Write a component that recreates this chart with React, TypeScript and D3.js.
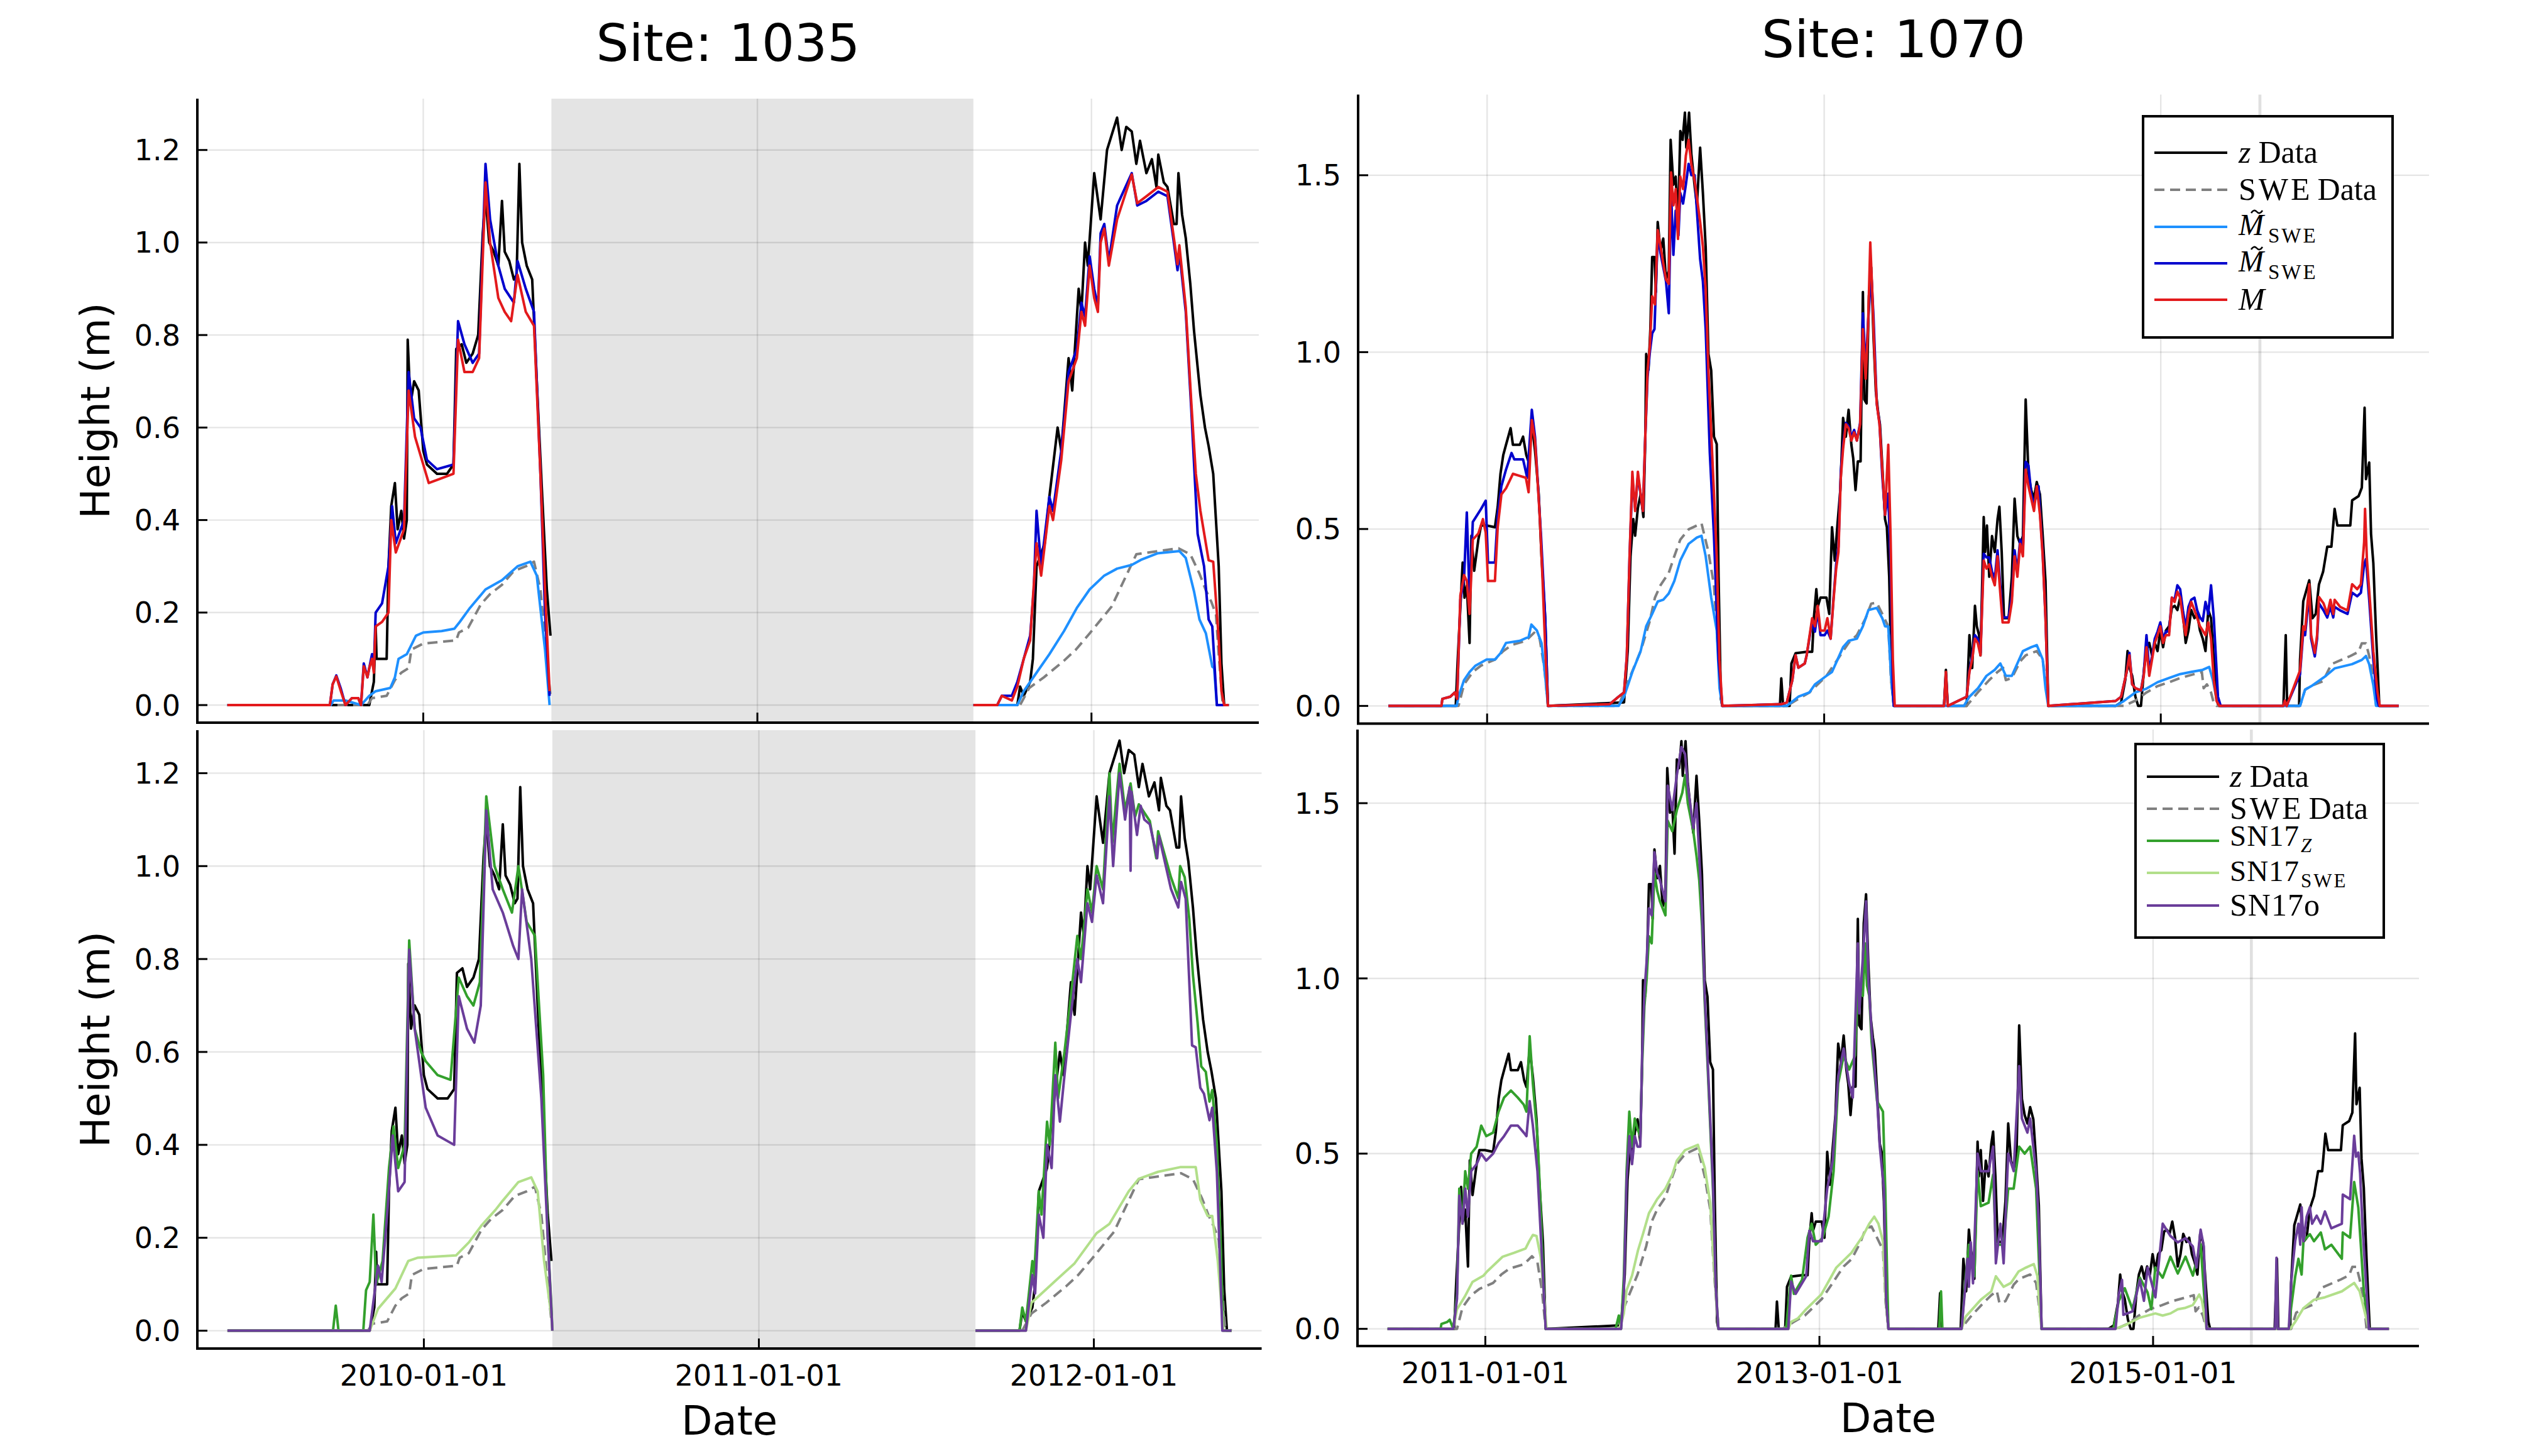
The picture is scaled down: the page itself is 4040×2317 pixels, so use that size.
import React from "react";
import * as d3 from "d3";

type Pt = [string, number | null];

// ---------------- Site 1035 ----------------
const site1035Range = ["2009-06-01", "2012-05-30"];
const site1035Gap = ["2010-05-21", "2011-08-25"];

const zData1035: Pt[] = [
  ["2009-06-01", 0], ["2009-11-03", 0], ["2009-11-06", 0.03], ["2009-11-08", 0.05], ["2009-11-10", 0.17], ["2009-11-11", 0.1],
  ["2009-11-22", 0.1], ["2009-11-24", 0.3], ["2009-11-27", 0.43], ["2009-12-01", 0.48], ["2009-12-04", 0.38], ["2009-12-08", 0.42],
  ["2009-12-11", 0.36], ["2009-12-14", 0.4], ["2009-12-15", 0.79], ["2009-12-18", 0.65], ["2009-12-22", 0.7], ["2009-12-27", 0.68],
  ["2010-01-01", 0.55], ["2010-01-05", 0.52], ["2010-01-16", 0.5], ["2010-01-27", 0.5], ["2010-02-03", 0.52], ["2010-02-06", 0.77],
  ["2010-02-12", 0.78], ["2010-02-17", 0.74], ["2010-02-24", 0.76], ["2010-03-02", 0.8], ["2010-03-07", 1.02], ["2010-03-10", 1.1],
  ["2010-03-14", 1.0], ["2010-03-19", 0.98], ["2010-03-24", 0.95], ["2010-03-28", 1.09], ["2010-03-31", 0.98], ["2010-04-05", 0.96],
  ["2010-04-10", 0.92], ["2010-04-13", 0.93], ["2010-04-16", 1.17], ["2010-04-19", 1.0], ["2010-04-24", 0.95], ["2010-04-30", 0.92],
  ["2010-05-05", 0.7], ["2010-05-11", 0.45], ["2010-05-16", 0.25], ["2010-05-20", 0.15], ["2010-06-01", null],
  ["2011-08-25", 0], ["2011-10-12", 0], ["2011-10-15", 0.04], ["2011-10-19", 0.02], ["2011-10-26", 0.05], ["2011-10-29", 0.1],
  ["2011-11-02", 0.3], ["2011-11-11", 0.35], ["2011-11-16", 0.45], ["2011-11-25", 0.6], ["2011-11-29", 0.55], ["2011-12-07", 0.75],
  ["2011-12-11", 0.68], ["2011-12-18", 0.9], ["2011-12-21", 0.85], ["2011-12-25", 1.0], ["2011-12-28", 0.95], ["2012-01-04", 1.15],
  ["2012-01-11", 1.05], ["2012-01-18", 1.2], ["2012-01-29", 1.27], ["2012-02-03", 1.2], ["2012-02-08", 1.25], ["2012-02-14", 1.24],
  ["2012-02-19", 1.17], ["2012-02-23", 1.22], ["2012-03-01", 1.15], ["2012-03-07", 1.18], ["2012-03-12", 1.12], ["2012-03-14", 1.19],
  ["2012-03-20", 1.13], ["2012-03-24", 1.12], ["2012-03-31", 1.04], ["2012-04-03", 1.04], ["2012-04-05", 1.15], ["2012-04-09", 1.06],
  ["2012-04-13", 1.01], ["2012-04-18", 0.91], ["2012-04-22", 0.81], ["2012-04-29", 0.67], ["2012-05-04", 0.6], ["2012-05-08", 0.56],
  ["2012-05-13", 0.5], ["2012-05-16", 0.4], ["2012-05-19", 0.3], ["2012-05-22", 0.09], ["2012-05-25", 0], ["2012-05-30", 0],
];

const swe1035: Pt[] = [
  ["2009-06-01", 0], ["2009-11-01", 0], ["2009-11-06", 0.015], ["2009-11-22", 0.02], ["2009-12-01", 0.054], ["2009-12-08", 0.07],
  ["2009-12-16", 0.08], ["2009-12-19", 0.12], ["2010-01-01", 0.133], ["2010-02-06", 0.14], ["2010-02-09", 0.157], ["2010-02-19", 0.167],
  ["2010-03-05", 0.218], ["2010-03-15", 0.24], ["2010-03-28", 0.26], ["2010-04-10", 0.29], ["2010-04-23", 0.3], ["2010-05-02", 0.31],
  ["2010-05-09", 0.25], ["2010-05-16", 0.1], ["2010-05-20", 0.02], ["2010-06-01", null],
  ["2011-08-25", 0], ["2011-10-15", 0], ["2011-10-25", 0.037], ["2011-11-10", 0.06], ["2011-12-02", 0.096], ["2011-12-15", 0.12],
  ["2011-12-30", 0.155], ["2012-01-23", 0.213], ["2012-02-08", 0.28], ["2012-02-19", 0.326], ["2012-04-05", 0.339], ["2012-04-18", 0.326],
  ["2012-04-28", 0.284], ["2012-05-05", 0.248], ["2012-05-11", 0.223], ["2012-05-16", 0.196], ["2012-05-19", 0.11], ["2012-05-23", 0.01],
  ["2012-05-30", 0],
];

const mTildeLight1035: Pt[] = [
  ["2009-06-01", 0], ["2009-09-22", 0], ["2009-09-25", 0.01], ["2009-10-08", 0.01], ["2009-10-25", 0], ["2009-11-03", 0.02],
  ["2009-11-10", 0.03], ["2009-11-26", 0.037], ["2009-12-01", 0.06], ["2009-12-05", 0.1], ["2009-12-14", 0.11], ["2009-12-19", 0.13],
  ["2009-12-24", 0.15], ["2010-01-01", 0.157], ["2010-01-21", 0.16], ["2010-02-04", 0.165], ["2010-02-10", 0.18], ["2010-02-21", 0.21],
  ["2010-03-10", 0.25], ["2010-03-28", 0.27], ["2010-04-14", 0.3], ["2010-04-28", 0.31], ["2010-05-05", 0.28], ["2010-05-14", 0.12],
  ["2010-05-19", 0], ["2010-06-01", null],
  ["2011-08-25", 0], ["2011-10-12", 0], ["2011-10-19", 0.03], ["2011-11-02", 0.07], ["2011-11-16", 0.11], ["2011-12-02", 0.16],
  ["2011-12-16", 0.21], ["2011-12-30", 0.25], ["2012-01-15", 0.28], ["2012-01-29", 0.295], ["2012-02-14", 0.303], ["2012-02-24", 0.314],
  ["2012-03-13", 0.328], ["2012-04-06", 0.333], ["2012-04-13", 0.318], ["2012-04-22", 0.246], ["2012-04-28", 0.185], ["2012-05-05", 0.155],
  ["2012-05-12", 0.083], ["2012-05-14", 0.08], ["2012-05-17", 0], ["2012-05-30", 0],
];

const mTildeDark1035: Pt[] = [
  ["2009-06-01", 0], ["2009-09-21", 0], ["2009-09-24", 0.045], ["2009-09-28", 0.064], ["2009-10-03", 0.035], ["2009-10-08", 0],
  ["2009-10-15", 0.015], ["2009-10-22", 0.015], ["2009-10-25", 0], ["2009-10-28", 0.09], ["2009-11-01", 0.06], ["2009-11-03", 0.08],
  ["2009-11-06", 0.11], ["2009-11-08", 0.08], ["2009-11-10", 0.2], ["2009-11-17", 0.22], ["2009-11-24", 0.3], ["2009-11-28", 0.43],
  ["2009-12-02", 0.35], ["2009-12-11", 0.4], ["2009-12-16", 0.72], ["2009-12-22", 0.62], ["2009-12-29", 0.6], ["2010-01-05", 0.53],
  ["2010-01-16", 0.51], ["2010-02-03", 0.52], ["2010-02-08", 0.83], ["2010-02-15", 0.78], ["2010-02-24", 0.74], ["2010-03-03", 0.76],
  ["2010-03-10", 1.17], ["2010-03-15", 1.05], ["2010-03-24", 0.95], ["2010-03-31", 0.9], ["2010-04-10", 0.87], ["2010-04-14", 0.96],
  ["2010-04-23", 0.9], ["2010-05-02", 0.85], ["2010-05-09", 0.5], ["2010-05-14", 0.2], ["2010-05-19", 0.02], ["2010-06-01", null],
  ["2011-08-25", 0], ["2011-09-20", 0], ["2011-09-25", 0.02], ["2011-10-06", 0.02], ["2011-10-12", 0.05], ["2011-10-19", 0.1],
  ["2011-10-26", 0.15], ["2011-10-30", 0.25], ["2011-11-02", 0.42], ["2011-11-07", 0.3], ["2011-11-16", 0.45], ["2011-11-20", 0.42],
  ["2011-11-29", 0.55], ["2011-12-07", 0.72], ["2011-12-16", 0.77], ["2011-12-21", 0.87], ["2011-12-25", 0.84], ["2011-12-30", 0.97],
  ["2012-01-04", 0.9], ["2012-01-08", 0.86], ["2012-01-11", 1.02], ["2012-01-15", 1.04], ["2012-01-20", 0.96], ["2012-01-29", 1.08],
  ["2012-02-14", 1.15], ["2012-02-20", 1.08], ["2012-03-01", 1.09], ["2012-03-14", 1.11], ["2012-03-24", 1.1], ["2012-03-31", 1.0],
  ["2012-04-04", 0.94], ["2012-04-06", 0.98], ["2012-04-13", 0.85], ["2012-04-19", 0.64], ["2012-04-26", 0.37], ["2012-05-03", 0.3],
  ["2012-05-08", 0.185], ["2012-05-12", 0.17], ["2012-05-17", 0], ["2012-05-30", 0],
];

const m1035: Pt[] = [
  ["2009-06-01", 0], ["2009-09-21", 0], ["2009-09-24", 0.045], ["2009-09-28", 0.062], ["2009-10-03", 0.03], ["2009-10-08", 0],
  ["2009-10-15", 0.015], ["2009-10-22", 0.015], ["2009-10-25", 0], ["2009-10-28", 0.084], ["2009-11-01", 0.06], ["2009-11-03", 0.08],
  ["2009-11-06", 0.1], ["2009-11-08", 0.07], ["2009-11-10", 0.17], ["2009-11-17", 0.18], ["2009-11-24", 0.2], ["2009-11-27", 0.4],
  ["2009-12-02", 0.33], ["2009-12-11", 0.38], ["2009-12-16", 0.68], ["2009-12-23", 0.58], ["2010-01-01", 0.52], ["2010-01-07", 0.48],
  ["2010-02-03", 0.5], ["2010-02-08", 0.79], ["2010-02-15", 0.72], ["2010-02-24", 0.72], ["2010-03-03", 0.75], ["2010-03-10", 1.13],
  ["2010-03-15", 1.0], ["2010-03-24", 0.88], ["2010-03-31", 0.85], ["2010-04-07", 0.83], ["2010-04-14", 0.93], ["2010-04-23", 0.85],
  ["2010-05-02", 0.82], ["2010-05-09", 0.5], ["2010-05-14", 0.25], ["2010-05-19", 0.03], ["2010-06-01", null],
  ["2011-08-25", 0], ["2011-09-20", 0], ["2011-09-25", 0.02], ["2011-10-06", 0.01], ["2011-10-12", 0.04], ["2011-10-19", 0.1],
  ["2011-10-26", 0.14], ["2011-11-02", 0.35], ["2011-11-07", 0.28], ["2011-11-16", 0.43], ["2011-11-20", 0.4], ["2011-11-29", 0.53],
  ["2011-12-07", 0.7], ["2011-12-16", 0.75], ["2011-12-21", 0.85], ["2011-12-25", 0.82], ["2011-12-30", 0.95], ["2012-01-04", 0.88],
  ["2012-01-08", 0.85], ["2012-01-11", 1.0], ["2012-01-15", 1.03], ["2012-01-20", 0.95], ["2012-01-29", 1.05], ["2012-02-14", 1.147],
  ["2012-02-20", 1.085], ["2012-03-01", 1.1], ["2012-03-14", 1.12], ["2012-03-24", 1.11], ["2012-03-31", 1.01], ["2012-04-04", 0.953],
  ["2012-04-06", 0.994], ["2012-04-13", 0.86], ["2012-04-19", 0.656], ["2012-04-24", 0.5], ["2012-04-29", 0.42], ["2012-05-08", 0.313],
  ["2012-05-13", 0.31], ["2012-05-19", 0.144], ["2012-05-22", 0.03], ["2012-05-25", 0], ["2012-05-30", 0],
];

const sn17z1035: Pt[] = [
  ["2009-06-01", 0], ["2009-09-24", 0], ["2009-09-27", 0.054], ["2009-09-30", 0], ["2009-10-27", 0], ["2009-10-30", 0.087],
  ["2009-11-03", 0.105], ["2009-11-07", 0.25], ["2009-11-10", 0.1], ["2009-11-17", 0.15], ["2009-11-24", 0.35], ["2009-11-29", 0.44],
  ["2009-12-04", 0.35], ["2009-12-11", 0.4], ["2009-12-16", 0.84], ["2009-12-22", 0.65], ["2009-12-29", 0.6], ["2010-01-03", 0.58],
  ["2010-01-16", 0.55], ["2010-01-30", 0.54], ["2010-02-08", 0.76], ["2010-02-17", 0.72], ["2010-02-24", 0.7], ["2010-03-03", 0.75],
  ["2010-03-10", 1.15], ["2010-03-19", 1.0], ["2010-03-28", 0.95], ["2010-04-07", 0.9], ["2010-04-14", 1.0], ["2010-04-23", 0.88],
  ["2010-05-02", 0.85], ["2010-05-11", 0.55], ["2010-05-16", 0.2], ["2010-05-20", 0.05], ["2010-05-21", 0], ["2010-06-01", null],
  ["2011-08-25", 0], ["2011-10-12", 0], ["2011-10-15", 0.05], ["2011-10-19", 0.02], ["2011-10-26", 0.15], ["2011-10-28", 0.12],
  ["2011-11-02", 0.3], ["2011-11-05", 0.25], ["2011-11-11", 0.45], ["2011-11-14", 0.4], ["2011-11-20", 0.62], ["2011-11-23", 0.5],
  ["2011-11-30", 0.6], ["2011-12-07", 0.72], ["2011-12-14", 0.85], ["2011-12-18", 0.8], ["2011-12-25", 0.95], ["2011-12-30", 0.9],
  ["2012-01-04", 1.0], ["2012-01-11", 0.95], ["2012-01-18", 1.2], ["2012-01-21", 1.05], ["2012-01-29", 1.22], ["2012-02-04", 1.12],
  ["2012-02-10", 1.178], ["2012-02-15", 1.107], ["2012-02-19", 1.133], ["2012-03-02", 1.097], ["2012-03-09", 1.017], ["2012-03-11", 1.075],
  ["2012-03-25", 0.976], ["2012-04-02", 0.931], ["2012-04-04", 1.0], ["2012-04-09", 0.976], ["2012-04-14", 0.886], ["2012-04-18", 0.765],
  ["2012-04-23", 0.664], ["2012-04-27", 0.569], ["2012-05-02", 0.557], ["2012-05-06", 0.493], ["2012-05-09", 0.518], ["2012-05-14", 0.402],
  ["2012-05-18", 0.2], ["2012-05-21", 0], ["2012-05-30", 0],
];

const sn17swe1035: Pt[] = [
  ["2009-06-01", 0], ["2009-11-03", 0], ["2009-11-12", 0.047], ["2009-12-01", 0.091], ["2009-12-15", 0.15], ["2009-12-25", 0.157],
  ["2010-02-05", 0.162], ["2010-02-19", 0.19], ["2010-03-05", 0.227], ["2010-03-20", 0.26], ["2010-03-28", 0.28], ["2010-04-14", 0.32],
  ["2010-04-28", 0.33], ["2010-05-05", 0.3], ["2010-05-12", 0.15], ["2010-05-20", 0.03], ["2010-05-21", 0], ["2010-06-01", null],
  ["2011-08-25", 0], ["2011-10-19", 0], ["2011-10-25", 0.06], ["2011-11-16", 0.1], ["2011-12-11", 0.145], ["2012-01-04", 0.21],
  ["2012-01-18", 0.23], ["2012-02-08", 0.3], ["2012-02-19", 0.327], ["2012-03-11", 0.342], ["2012-04-04", 0.352], ["2012-04-21", 0.352],
  ["2012-04-26", 0.282], ["2012-05-04", 0.247], ["2012-05-09", 0.247], ["2012-05-15", 0.151], ["2012-05-20", 0.03], ["2012-05-21", 0],
  ["2012-05-30", 0],
];

const sn17o1035: Pt[] = [
  ["2009-06-01", 0], ["2009-11-03", 0], ["2009-11-12", 0.14], ["2009-11-16", 0.105], ["2009-11-22", 0.25], ["2009-11-28", 0.42],
  ["2009-12-04", 0.3], ["2009-12-11", 0.32], ["2009-12-16", 0.82], ["2009-12-22", 0.65], ["2009-12-29", 0.55], ["2010-01-03", 0.48],
  ["2010-01-16", 0.42], ["2010-02-03", 0.4], ["2010-02-08", 0.72], ["2010-02-17", 0.65], ["2010-02-25", 0.62], ["2010-03-04", 0.7],
  ["2010-03-10", 1.12], ["2010-03-17", 0.95], ["2010-03-28", 0.9], ["2010-04-08", 0.83], ["2010-04-14", 0.8], ["2010-04-18", 0.95],
  ["2010-04-28", 0.8], ["2010-05-09", 0.5], ["2010-05-16", 0.2], ["2010-05-21", 0], ["2010-06-01", null],
  ["2011-08-25", 0], ["2011-10-19", 0], ["2011-10-26", 0.12], ["2011-10-29", 0.08], ["2011-11-02", 0.25], ["2011-11-07", 0.2],
  ["2011-11-11", 0.4], ["2011-11-16", 0.35], ["2011-11-20", 0.55], ["2011-11-25", 0.45], ["2011-11-30", 0.55], ["2011-12-07", 0.68],
  ["2011-12-14", 0.8], ["2011-12-18", 0.75], ["2011-12-25", 0.92], ["2011-12-30", 0.88], ["2012-01-04", 0.98], ["2012-01-11", 0.92],
  ["2012-01-18", 1.15], ["2012-01-22", 1.0], ["2012-01-29", 1.2], ["2012-02-04", 1.1], ["2012-02-09", 1.17], ["2012-02-10", 0.99],
  ["2012-02-11", 1.16], ["2012-02-17", 1.067], ["2012-02-21", 1.13], ["2012-02-25", 1.1], ["2012-03-02", 1.09], ["2012-03-10", 1.017],
  ["2012-03-12", 1.065], ["2012-03-25", 0.951], ["2012-04-02", 0.911], ["2012-04-05", 0.966], ["2012-04-10", 0.93], ["2012-04-17", 0.614],
  ["2012-04-21", 0.61], ["2012-04-26", 0.523], ["2012-04-30", 0.51], ["2012-05-06", 0.453], ["2012-05-09", 0.48], ["2012-05-14", 0.342],
  ["2012-05-20", 0], ["2012-05-30", 0],
];

// ---------------- Site 1070 ----------------
const site1070Range = ["2010-06-01", "2016-05-31"];
const site1070Marker = "2015-08-04";

const zData1070: Pt[] = [
  ["2010-06-01", 0], ["2010-10-25", 0], ["2010-10-29", 0.125], ["2010-11-09", 0.405], ["2010-11-13", 0.306], ["2010-11-18", 0.34],
  ["2010-11-24", 0.178], ["2010-11-28", 0.481], ["2010-12-04", 0.382], ["2010-12-13", 0.47], ["2010-12-19", 0.51], ["2010-12-31", 0.51],
  ["2011-01-18", 0.505], ["2011-01-24", 0.563], ["2011-01-30", 0.656], ["2011-02-05", 0.709], ["2011-02-11", 0.738], ["2011-02-21", 0.785],
  ["2011-02-26", 0.738], ["2011-03-13", 0.738], ["2011-03-20", 0.761], ["2011-03-27", 0.709], ["2011-04-01", 0.69], ["2011-04-08", 0.8],
  ["2011-04-15", 0.72], ["2011-04-23", 0.598], ["2011-04-29", 0.423], ["2011-05-07", 0.248], ["2011-05-13", 0],
  ["2011-10-25", 0.01], ["2011-11-02", 0.155], ["2011-11-08", 0.423], ["2011-11-14", 0.528], ["2011-11-18", 0.481], ["2011-11-24", 0.56],
  ["2011-11-30", 0.598], ["2011-12-06", 0.534], ["2011-12-10", 0.75], ["2011-12-12", 0.995], ["2011-12-17", 0.95], ["2011-12-21", 1.065],
  ["2011-12-25", 1.269], ["2011-12-30", 1.269], ["2012-01-02", 1.17], ["2012-01-06", 1.368], ["2012-01-12", 1.286], ["2012-01-18", 1.321],
  ["2012-01-24", 1.205], ["2012-01-30", 1.23], ["2012-02-03", 1.6], ["2012-02-09", 1.473], ["2012-02-14", 1.496], ["2012-02-19", 1.356],
  ["2012-02-24", 1.625], ["2012-02-29", 1.6], ["2012-03-05", 1.677], ["2012-03-08", 1.578], ["2012-03-14", 1.677], ["2012-03-19", 1.56],
  ["2012-03-26", 1.47], ["2012-03-31", 1.415], ["2012-04-07", 1.578], ["2012-04-13", 1.45], ["2012-04-19", 1.298], ["2012-04-25", 0.995],
  ["2012-05-01", 0.948], ["2012-05-07", 0.761], ["2012-05-13", 0.74], ["2012-05-17", 0.365], ["2012-05-22", 0.02], ["2012-05-25", 0],
  ["2012-09-27", 0], ["2012-09-30", 0.078], ["2012-10-04", 0], ["2012-10-18", 0], ["2012-10-22", 0.12], ["2012-10-31", 0.149],
  ["2012-11-24", 0.153], ["2012-12-06", 0.153], ["2012-12-10", 0.254], ["2012-12-15", 0.33], ["2012-12-18", 0.28], ["2012-12-24", 0.306],
  ["2013-01-06", 0.306], ["2013-01-12", 0.26], ["2013-01-18", 0.505], ["2013-01-24", 0.411], ["2013-01-30", 0.516], ["2013-02-05", 0.61],
  ["2013-02-11", 0.814], ["2013-02-17", 0.761], ["2013-02-23", 0.837], ["2013-03-01", 0.738], ["2013-03-05", 0.7], ["2013-03-10", 0.61],
  ["2013-03-15", 0.691], ["2013-03-21", 0.691], ["2013-03-26", 1.17], ["2013-03-29", 0.866], ["2013-04-03", 0.855], ["2013-04-08", 1.158],
  ["2013-04-13", 1.24], ["2013-04-18", 1.042], ["2013-04-23", 0.89], ["2013-04-28", 0.831], ["2013-05-02", 0.796], ["2013-05-07", 0.68],
  ["2013-05-13", 0.528], ["2013-05-17", 0.505], ["2013-05-22", 0.365], ["2013-05-27", 0.07], ["2013-06-01", 0],
  ["2013-09-18", 0], ["2013-09-22", 0.102], ["2013-09-26", 0], ["2013-11-06", 0], ["2013-11-12", 0.2], ["2013-11-18", 0.107],
  ["2013-11-24", 0.283], ["2013-11-28", 0.225], ["2013-12-03", 0.2], ["2013-12-06", 0.143], ["2013-12-13", 0.534], ["2013-12-16", 0.435],
  ["2013-12-20", 0.51], ["2013-12-25", 0.365], ["2013-12-31", 0.48], ["2014-01-06", 0.435], ["2014-01-12", 0.528], ["2014-01-16", 0.563],
  ["2014-01-21", 0.435], ["2014-01-26", 0.248], ["2014-02-05", 0.248], ["2014-02-12", 0.365], ["2014-02-18", 0.586], ["2014-02-24", 0.48],
  ["2014-03-02", 0.458], ["2014-03-08", 0.48], ["2014-03-14", 0.866], ["2014-03-20", 0.656], ["2014-03-26", 0.61], ["2014-04-01", 0.586],
  ["2014-04-07", 0.633], ["2014-04-14", 0.598], ["2014-04-20", 0.481], ["2014-04-26", 0.353], ["2014-05-02", 0],
  ["2014-09-25", 0], ["2014-10-07", 0.01], ["2014-10-16", 0.073], ["2014-10-21", 0.155], ["2014-10-25", 0.108], ["2014-10-31", 0.085],
  ["2014-11-07", 0.026], ["2014-11-13", 0], ["2014-11-19", 0], ["2014-11-26", 0.108], ["2014-12-01", 0.155], ["2014-12-07", 0.178],
  ["2014-12-13", 0.143], ["2014-12-19", 0.178], ["2014-12-25", 0.155], ["2014-12-31", 0.213], ["2015-01-06", 0.166], ["2015-01-12", 0.213],
  ["2015-01-19", 0.225], ["2015-01-25", 0.277], ["2015-01-31", 0.283], ["2015-02-06", 0.271], ["2015-02-12", 0.306], ["2015-02-18", 0.26],
  ["2015-02-24", 0.178], ["2015-03-02", 0.213], ["2015-03-08", 0.271], ["2015-03-15", 0.248], ["2015-03-21", 0.26], ["2015-03-27", 0.213],
  ["2015-04-02", 0.19], ["2015-04-08", 0.155], ["2015-04-14", 0.271], ["2015-04-20", 0.248], ["2015-04-26", 0.13], ["2015-05-02", 0.02],
  ["2015-05-06", 0],
  ["2015-09-24", 0], ["2015-09-29", 0.2], ["2015-10-02", 0], ["2015-10-28", 0], ["2015-10-30", 0.13], ["2015-11-06", 0.296],
  ["2015-11-19", 0.355], ["2015-11-26", 0.248], ["2015-12-03", 0.26], ["2015-12-10", 0.343], ["2015-12-19", 0.379], ["2015-12-28", 0.45],
  ["2016-01-06", 0.45], ["2016-01-13", 0.557], ["2016-01-19", 0.51], ["2016-02-02", 0.51], ["2016-02-16", 0.51], ["2016-02-20", 0.581],
  ["2016-03-05", 0.593], ["2016-03-12", 0.617], ["2016-03-18", 0.843], ["2016-03-21", 0.641], ["2016-03-28", 0.688], ["2016-04-01", 0.486],
  ["2016-04-06", 0.403], ["2016-04-12", 0.2], ["2016-04-19", 0], ["2016-05-31", 0],
];

const swe1070: Pt[] = [
  ["2010-06-01", 0], ["2010-10-31", 0], ["2010-11-04", 0.02], ["2010-11-12", 0.061], ["2010-12-01", 0.096], ["2010-12-19", 0.114],
  ["2011-01-18", 0.131], ["2011-02-05", 0.155], ["2011-02-23", 0.172], ["2011-03-26", 0.184], ["2011-04-13", 0.207], ["2011-04-25", 0.19],
  ["2011-05-05", 0.108], ["2011-05-13", 0],
  ["2011-10-13", 0], ["2011-11-06", 0.079], ["2011-11-30", 0.155], ["2011-12-19", 0.236], ["2011-12-31", 0.306], ["2012-01-12", 0.341],
  ["2012-01-30", 0.376], ["2012-02-11", 0.423], ["2012-02-24", 0.47], ["2012-03-13", 0.499], ["2012-04-10", 0.516], ["2012-04-25", 0.435],
  ["2012-05-07", 0.341], ["2012-05-17", 0.131], ["2012-05-25", 0],
  ["2012-10-12", 0], ["2012-11-06", 0.02], ["2012-11-30", 0.038], ["2013-01-06", 0.085], ["2013-01-30", 0.131], ["2013-02-11", 0.155],
  ["2013-02-23", 0.178], ["2013-03-13", 0.2], ["2013-04-01", 0.248], ["2013-04-13", 0.289], ["2013-04-25", 0.292], ["2013-05-07", 0.26],
  ["2013-05-20", 0.225], ["2013-05-26", 0.073], ["2013-06-01", 0],
  ["2013-11-06", 0], ["2013-11-30", 0.038], ["2013-12-25", 0.073], ["2014-01-12", 0.096], ["2014-01-24", 0.108], ["2014-01-30", 0.073],
  ["2014-02-12", 0.079], ["2014-03-02", 0.126], ["2014-03-14", 0.143], ["2014-04-07", 0.155], ["2014-04-20", 0.131], ["2014-04-28", 0.05],
  ["2014-05-03", 0],
  ["2014-10-13", 0], ["2014-11-07", 0.015], ["2014-12-01", 0.038], ["2014-12-25", 0.056], ["2015-01-19", 0.067], ["2015-02-12", 0.079],
  ["2015-03-15", 0.09], ["2015-03-31", 0.096], ["2015-04-04", 0.05], ["2015-04-11", 0.061], ["2015-04-20", 0.038], ["2015-04-26", 0.008],
  ["2015-05-02", 0],
  ["2015-10-30", 0], ["2015-11-10", 0.046], ["2015-11-26", 0.058], ["2015-12-19", 0.07], ["2016-01-06", 0.118], ["2016-02-16", 0.141],
  ["2016-03-05", 0.153], ["2016-03-12", 0.177], ["2016-03-21", 0.177], ["2016-03-28", 0.141], ["2016-04-06", 0.082], ["2016-04-12", 0],
  ["2016-05-31", 0],
];

const mTildeLight1070: Pt[] = [
  ["2010-06-01", 0], ["2010-10-27", 0], ["2010-10-31", 0.026], ["2010-11-12", 0.073], ["2010-11-24", 0.096], ["2010-12-07", 0.114],
  ["2010-12-31", 0.131], ["2011-01-18", 0.131], ["2011-01-30", 0.149], ["2011-02-11", 0.178], ["2011-03-13", 0.184], ["2011-04-01", 0.195],
  ["2011-04-07", 0.23], ["2011-04-19", 0.213], ["2011-04-29", 0.178], ["2011-05-07", 0.085], ["2011-05-13", 0],
  ["2011-10-13", 0], ["2011-10-25", 0.026], ["2011-11-06", 0.073], ["2011-11-12", 0.096], ["2011-11-30", 0.155], ["2011-12-12", 0.225],
  ["2011-12-25", 0.26], ["2012-01-06", 0.295], ["2012-01-18", 0.3], ["2012-01-30", 0.318], ["2012-02-11", 0.353], ["2012-02-24", 0.411],
  ["2012-03-13", 0.458], ["2012-03-31", 0.476], ["2012-04-10", 0.481], ["2012-04-19", 0.423], ["2012-05-01", 0.306], ["2012-05-13", 0.213],
  ["2012-05-19", 0.05], ["2012-05-25", 0],
  ["2012-10-12", 0], ["2012-11-06", 0.026], ["2012-11-30", 0.038], ["2012-12-12", 0.061], ["2013-01-06", 0.085], ["2013-01-18", 0.096],
  ["2013-01-30", 0.131], ["2013-02-11", 0.166], ["2013-02-23", 0.184], ["2013-03-13", 0.19], ["2013-03-26", 0.225], ["2013-04-07", 0.271],
  ["2013-04-25", 0.277], ["2013-05-07", 0.248], ["2013-05-13", 0.225], ["2013-05-20", 0.225], ["2013-05-26", 0.085], ["2013-06-01", 0],
  ["2013-10-31", 0], ["2013-11-12", 0.026], ["2013-11-30", 0.049], ["2013-12-19", 0.085], ["2014-01-06", 0.102], ["2014-01-18", 0.12],
  ["2014-01-30", 0.085], ["2014-02-12", 0.085], ["2014-02-24", 0.12], ["2014-03-08", 0.155], ["2014-03-26", 0.166], ["2014-04-07", 0.172],
  ["2014-04-20", 0.131], ["2014-04-26", 0.05], ["2014-05-02", 0],
  ["2014-09-25", 0], ["2014-10-13", 0.014], ["2014-11-07", 0.038], ["2014-12-01", 0.049], ["2014-12-25", 0.067], ["2015-01-19", 0.079],
  ["2015-02-12", 0.09], ["2015-03-08", 0.096], ["2015-04-02", 0.102], ["2015-04-16", 0.11], ["2015-04-24", 0.073], ["2015-05-02", 0.02],
  ["2015-05-08", 0],
  ["2015-10-30", 0], ["2015-11-10", 0.046], ["2015-11-26", 0.058], ["2015-12-22", 0.082], ["2016-01-13", 0.106], ["2016-02-20", 0.118],
  ["2016-03-12", 0.13], ["2016-03-21", 0.141], ["2016-03-28", 0.118], ["2016-04-06", 0.058], ["2016-04-12", 0], ["2016-05-31", 0],
];

const mTildeDark1070: Pt[] = [
  ["2010-06-01", 0], ["2010-09-24", 0], ["2010-09-26", 0.02], ["2010-10-13", 0.026], ["2010-10-23", 0.038], ["2010-10-28", 0.02],
  ["2010-11-04", 0.3], ["2010-11-12", 0.36], ["2010-11-18", 0.547], ["2010-11-24", 0.3], ["2010-12-01", 0.52], ["2010-12-19", 0.557],
  ["2010-12-29", 0.58], ["2011-01-03", 0.405], ["2011-01-18", 0.405], ["2011-01-24", 0.54], ["2011-02-01", 0.621], ["2011-02-11", 0.668],
  ["2011-02-23", 0.715], ["2011-03-01", 0.697], ["2011-03-20", 0.697], ["2011-03-29", 0.645], ["2011-04-08", 0.837], ["2011-04-15", 0.76],
  ["2011-04-28", 0.48], ["2011-05-07", 0.248], ["2011-05-13", 0],
  ["2011-09-24", 0.005], ["2011-10-13", 0.026], ["2011-10-25", 0.038], ["2011-10-31", 0.14], ["2011-11-06", 0.423], ["2011-11-12", 0.64],
  ["2011-11-18", 0.56], ["2011-11-24", 0.65], ["2011-11-30", 0.598], ["2011-12-05", 0.551], ["2011-12-10", 0.761], ["2011-12-15", 0.93],
  ["2011-12-20", 1.0], ["2011-12-25", 1.053], ["2011-12-30", 1.065], ["2012-01-06", 1.33], ["2012-01-12", 1.28], ["2012-01-18", 1.24],
  ["2012-01-24", 1.2], ["2012-01-30", 1.11], ["2012-02-04", 1.45], ["2012-02-09", 1.275], ["2012-02-14", 1.4], ["2012-02-20", 1.33],
  ["2012-02-24", 1.45], ["2012-03-01", 1.42], ["2012-03-07", 1.473], ["2012-03-13", 1.532], ["2012-03-19", 1.5], ["2012-03-26", 1.5],
  ["2012-03-31", 1.4], ["2012-04-07", 1.263], ["2012-04-13", 1.2], ["2012-04-19", 1.065], ["2012-04-28", 0.715], ["2012-05-07", 0.48],
  ["2012-05-17", 0.13], ["2012-05-25", 0],
  ["2012-09-30", 0.005], ["2012-10-12", 0.01], ["2012-10-24", 0.073], ["2012-10-31", 0.143], ["2012-11-06", 0.108], ["2012-11-20", 0.12],
  ["2012-11-24", 0.143], ["2012-12-06", 0.24], ["2012-12-12", 0.21], ["2012-12-18", 0.27], ["2012-12-24", 0.2], ["2013-01-02", 0.2],
  ["2013-01-08", 0.213], ["2013-01-15", 0.19], ["2013-01-21", 0.3], ["2013-01-27", 0.4], ["2013-02-01", 0.45], ["2013-02-06", 0.66],
  ["2013-02-11", 0.74], ["2013-02-17", 0.8], ["2013-02-23", 0.79], ["2013-03-01", 0.76], ["2013-03-07", 0.78], ["2013-03-13", 0.75],
  ["2013-03-20", 0.8], ["2013-03-26", 1.11], ["2013-04-01", 0.95], ["2013-04-06", 1.08], ["2013-04-13", 1.228], ["2013-04-18", 1.1],
  ["2013-04-25", 0.855], ["2013-05-01", 0.8], ["2013-05-07", 0.65], ["2013-05-13", 0.54], ["2013-05-20", 0.6], ["2013-05-25", 0.4],
  ["2013-05-30", 0.05], ["2013-06-01", 0],
  ["2013-09-18", 0], ["2013-09-22", 0.09], ["2013-09-26", 0], ["2013-11-06", 0.026], ["2013-11-12", 0.1], ["2013-11-18", 0.14],
  ["2013-11-24", 0.2], ["2013-11-30", 0.19], ["2013-12-06", 0.15], ["2013-12-13", 0.43], ["2013-12-19", 0.42], ["2013-12-25", 0.42],
  ["2013-12-31", 0.38], ["2014-01-06", 0.36], ["2014-01-12", 0.44], ["2014-01-18", 0.34], ["2014-01-23", 0.25], ["2014-02-05", 0.25],
  ["2014-02-12", 0.31], ["2014-02-18", 0.44], ["2014-02-24", 0.38], ["2014-03-02", 0.47], ["2014-03-08", 0.44], ["2014-03-14", 0.69],
  ["2014-03-20", 0.68], ["2014-03-26", 0.6], ["2014-04-01", 0.57], ["2014-04-11", 0.621], ["2014-04-14", 0.55], ["2014-04-20", 0.43],
  ["2014-04-26", 0.25], ["2014-05-02", 0],
  ["2014-09-25", 0.014], ["2014-10-07", 0.026], ["2014-10-13", 0.061], ["2014-10-19", 0.096], ["2014-10-25", 0.15], ["2014-10-31", 0.061],
  ["2014-11-07", 0.05], ["2014-11-19", 0.044], ["2014-11-25", 0.09], ["2014-12-01", 0.2], ["2014-12-07", 0.1], ["2014-12-13", 0.14],
  ["2014-12-19", 0.19], ["2014-12-25", 0.21], ["2014-12-31", 0.236], ["2015-01-06", 0.19], ["2015-01-12", 0.21], ["2015-01-19", 0.21],
  ["2015-01-25", 0.306], ["2015-01-31", 0.3], ["2015-02-06", 0.341], ["2015-02-12", 0.33], ["2015-02-18", 0.27], ["2015-02-24", 0.22],
  ["2015-03-02", 0.28], ["2015-03-08", 0.3], ["2015-03-15", 0.306], ["2015-03-21", 0.27], ["2015-03-27", 0.25], ["2015-04-02", 0.24],
  ["2015-04-08", 0.294], ["2015-04-14", 0.26], ["2015-04-20", 0.341], ["2015-04-26", 0.248], ["2015-05-05", 0.026], ["2015-05-11", 0],
  ["2015-09-24", 0], ["2015-09-27", 0.015], ["2015-10-01", 0], ["2015-10-30", 0.09], ["2015-11-06", 0.21], ["2015-11-10", 0.2],
  ["2015-11-19", 0.32], ["2015-11-23", 0.19], ["2015-12-01", 0.14], ["2015-12-06", 0.19], ["2015-12-10", 0.29], ["2015-12-20", 0.27],
  ["2015-12-28", 0.25], ["2016-01-04", 0.28], ["2016-01-10", 0.25], ["2016-01-13", 0.28], ["2016-01-25", 0.27], ["2016-02-10", 0.26],
  ["2016-02-20", 0.32], ["2016-03-02", 0.31], ["2016-03-10", 0.32], ["2016-03-17", 0.4], ["2016-03-21", 0.415], ["2016-03-28", 0.3],
  ["2016-04-06", 0.13], ["2016-04-14", 0.02], ["2016-04-18", 0], ["2016-05-31", 0],
];

const m1070: Pt[] = [
  ["2010-06-01", 0], ["2010-09-24", 0], ["2010-09-26", 0.02], ["2010-10-13", 0.026], ["2010-10-23", 0.038], ["2010-10-28", 0.02],
  ["2010-11-04", 0.312], ["2010-11-12", 0.37], ["2010-11-18", 0.353], ["2010-11-24", 0.26], ["2010-12-01", 0.47], ["2010-12-13", 0.487],
  ["2010-12-23", 0.528], ["2010-12-29", 0.49], ["2011-01-03", 0.353], ["2011-01-18", 0.353], ["2011-01-24", 0.505], ["2011-02-01", 0.598],
  ["2011-02-11", 0.615], ["2011-02-26", 0.656], ["2011-03-13", 0.65], ["2011-03-26", 0.645], ["2011-04-01", 0.604], ["2011-04-08", 0.808],
  ["2011-04-15", 0.75], ["2011-04-25", 0.54], ["2011-05-01", 0.365], ["2011-05-07", 0.166], ["2011-05-13", 0],
  ["2011-09-24", 0.005], ["2011-10-13", 0.026], ["2011-10-25", 0.038], ["2011-10-31", 0.14], ["2011-11-06", 0.423], ["2011-11-12", 0.662],
  ["2011-11-18", 0.551], ["2011-11-24", 0.662], ["2011-11-30", 0.598], ["2011-12-05", 0.551], ["2011-12-10", 0.761], ["2011-12-15", 0.948],
  ["2011-12-20", 1.018], ["2011-12-25", 1.158], ["2011-12-31", 1.135], ["2012-01-06", 1.345], ["2012-01-12", 1.3], ["2012-01-18", 1.251],
  ["2012-01-24", 1.205], ["2012-01-30", 1.193], ["2012-02-04", 1.508], ["2012-02-09", 1.415], ["2012-02-14", 1.461], ["2012-02-19", 1.32],
  ["2012-02-24", 1.496], ["2012-03-01", 1.461], ["2012-03-07", 1.555], ["2012-03-13", 1.6], ["2012-03-19", 1.531], ["2012-03-26", 1.485],
  ["2012-03-31", 1.438], ["2012-04-07", 1.368], ["2012-04-13", 1.298], ["2012-04-19", 1.18], ["2012-04-25", 0.948], ["2012-05-01", 0.773],
  ["2012-05-07", 0.6], ["2012-05-13", 0.423], ["2012-05-19", 0.13], ["2012-05-25", 0],
  ["2012-09-30", 0.005], ["2012-10-12", 0.01], ["2012-10-24", 0.073], ["2012-10-31", 0.143], ["2012-11-06", 0.108], ["2012-11-20", 0.12],
  ["2012-11-24", 0.143], ["2012-12-06", 0.248], ["2012-12-12", 0.225], ["2012-12-18", 0.283], ["2012-12-24", 0.213], ["2013-01-02", 0.213],
  ["2013-01-08", 0.248], ["2013-01-15", 0.19], ["2013-01-21", 0.295], ["2013-01-27", 0.388], ["2013-02-01", 0.435], ["2013-02-06", 0.645],
  ["2013-02-11", 0.727], ["2013-02-17", 0.796], ["2013-02-23", 0.785], ["2013-03-01", 0.75], ["2013-03-07", 0.773], ["2013-03-13", 0.75],
  ["2013-03-20", 0.796], ["2013-03-26", 1.065], ["2013-04-01", 0.925], ["2013-04-06", 1.065], ["2013-04-11", 1.31], ["2013-04-15", 1.181],
  ["2013-04-20", 0.995], ["2013-04-25", 0.855], ["2013-05-01", 0.796], ["2013-05-07", 0.668], ["2013-05-13", 0.54], ["2013-05-20", 0.738],
  ["2013-05-25", 0.481], ["2013-05-30", 0.13], ["2013-06-03", 0],
  ["2013-09-18", 0], ["2013-09-22", 0.096], ["2013-09-26", 0], ["2013-11-06", 0.026], ["2013-11-12", 0.096], ["2013-11-18", 0.131],
  ["2013-11-24", 0.19], ["2013-11-30", 0.178], ["2013-12-06", 0.143], ["2013-12-13", 0.411], ["2013-12-19", 0.388], ["2013-12-25", 0.4],
  ["2013-12-31", 0.365], ["2014-01-06", 0.341], ["2014-01-12", 0.423], ["2014-01-18", 0.318], ["2014-01-23", 0.236], ["2014-02-05", 0.236],
  ["2014-02-12", 0.294], ["2014-02-18", 0.423], ["2014-02-24", 0.365], ["2014-03-02", 0.458], ["2014-03-08", 0.423], ["2014-03-14", 0.668],
  ["2014-03-20", 0.621], ["2014-03-26", 0.586], ["2014-04-01", 0.551], ["2014-04-07", 0.621], ["2014-04-14", 0.54], ["2014-04-20", 0.423],
  ["2014-04-26", 0.248], ["2014-05-02", 0],
  ["2014-09-25", 0.014], ["2014-10-07", 0.026], ["2014-10-13", 0.061], ["2014-10-19", 0.096], ["2014-10-25", 0.143], ["2014-10-31", 0.061],
  ["2014-11-07", 0.05], ["2014-11-19", 0.044], ["2014-11-25", 0.085], ["2014-12-01", 0.166], ["2014-12-07", 0.085], ["2014-12-13", 0.131],
  ["2014-12-19", 0.178], ["2014-12-25", 0.2], ["2014-12-31", 0.225], ["2015-01-06", 0.178], ["2015-01-12", 0.2], ["2015-01-19", 0.2],
  ["2015-01-25", 0.306], ["2015-01-31", 0.294], ["2015-02-06", 0.323], ["2015-02-12", 0.306], ["2015-02-18", 0.248], ["2015-02-24", 0.2],
  ["2015-03-02", 0.26], ["2015-03-08", 0.294], ["2015-03-15", 0.271], ["2015-03-21", 0.248], ["2015-03-27", 0.225], ["2015-04-02", 0.213],
  ["2015-04-08", 0.2], ["2015-04-14", 0.236], ["2015-04-20", 0.19], ["2015-04-26", 0.073], ["2015-05-02", 0.014], ["2015-05-08", 0],
  ["2015-09-24", 0], ["2015-09-27", 0.015], ["2015-10-01", 0], ["2015-10-30", 0.1], ["2015-11-06", 0.225], ["2015-11-10", 0.215],
  ["2015-11-19", 0.344], ["2015-11-23", 0.2], ["2015-12-01", 0.15], ["2015-12-06", 0.2], ["2015-12-10", 0.308], ["2015-12-20", 0.29],
  ["2015-12-28", 0.26], ["2016-01-04", 0.3], ["2016-01-10", 0.26], ["2016-01-13", 0.3], ["2016-01-25", 0.28], ["2016-02-10", 0.27],
  ["2016-02-20", 0.344], ["2016-03-02", 0.33], ["2016-03-10", 0.344], ["2016-03-17", 0.463], ["2016-03-19", 0.557], ["2016-03-23", 0.415],
  ["2016-03-30", 0.29], ["2016-04-06", 0.154], ["2016-04-15", 0.04], ["2016-04-20", 0], ["2016-05-31", 0],
];

const sn17z1070: Pt[] = [
  ["2010-06-01", 0], ["2010-09-25", 0], ["2010-09-27", 0.014], ["2010-10-10", 0.02], ["2010-10-15", 0.026], ["2010-10-23", 0],
  ["2010-10-31", 0.1], ["2010-11-05", 0.4], ["2010-11-12", 0.3], ["2010-11-18", 0.45], ["2010-11-24", 0.4], ["2010-12-01", 0.5],
  ["2010-12-13", 0.52], ["2010-12-23", 0.58], ["2011-01-03", 0.55], ["2011-01-18", 0.56], ["2011-01-30", 0.62], ["2011-02-11", 0.66],
  ["2011-02-26", 0.68], ["2011-03-13", 0.66], ["2011-03-26", 0.64], ["2011-04-01", 0.62], ["2011-04-08", 0.835], ["2011-04-15", 0.7],
  ["2011-04-25", 0.55], ["2011-05-01", 0.38], ["2011-05-07", 0.18], ["2011-05-13", 0],
  ["2011-10-13", 0], ["2011-10-20", 0.038], ["2011-10-25", 0], ["2011-10-31", 0.15], ["2011-11-06", 0.45], ["2011-11-12", 0.62],
  ["2011-11-18", 0.52], ["2011-11-24", 0.6], ["2011-11-30", 0.57], ["2011-12-06", 0.55], ["2011-12-10", 0.75], ["2011-12-15", 0.92],
  ["2011-12-20", 1.0], ["2011-12-25", 1.12], ["2011-12-31", 1.1], ["2012-01-06", 1.3], ["2012-01-12", 1.25], ["2012-01-18", 1.22],
  ["2012-01-30", 1.18], ["2012-02-04", 1.45], ["2012-02-14", 1.42], ["2012-02-24", 1.48], ["2012-03-07", 1.53], ["2012-03-13", 1.58],
  ["2012-03-19", 1.5], ["2012-03-31", 1.42], ["2012-04-07", 1.35], ["2012-04-13", 1.28], ["2012-04-19", 1.15], ["2012-04-25", 0.93],
  ["2012-05-01", 0.76], ["2012-05-07", 0.58], ["2012-05-13", 0.4], ["2012-05-19", 0.12], ["2012-05-25", 0],
  ["2012-10-20", 0], ["2012-10-31", 0.152], ["2012-11-06", 0.1], ["2012-11-24", 0.14], ["2012-12-06", 0.26], ["2012-12-15", 0.3],
  ["2012-12-24", 0.24], ["2013-01-08", 0.26], ["2013-01-21", 0.32], ["2013-02-01", 0.45], ["2013-02-11", 0.7], ["2013-02-23", 0.78],
  ["2013-03-07", 0.74], ["2013-03-20", 0.78], ["2013-03-26", 0.98], ["2013-04-06", 0.95], ["2013-04-11", 1.1], ["2013-04-15", 0.98],
  ["2013-04-20", 0.95], ["2013-04-25", 0.82], ["2013-05-07", 0.65], ["2013-05-20", 0.62], ["2013-05-25", 0.4], ["2013-05-30", 0.1],
  ["2013-06-01", 0],
  ["2013-09-20", 0], ["2013-09-24", 0.107], ["2013-09-27", 0], ["2013-11-08", 0], ["2013-11-17", 0.15], ["2013-11-24", 0.24],
  ["2013-12-06", 0.15], ["2013-12-13", 0.45], ["2013-12-20", 0.35], ["2014-01-06", 0.36], ["2014-01-16", 0.44], ["2014-01-22", 0.24],
  ["2014-02-08", 0.24], ["2014-02-18", 0.4], ["2014-03-02", 0.4], ["2014-03-14", 0.52], ["2014-03-26", 0.5], ["2014-04-07", 0.52],
  ["2014-04-20", 0.4], ["2014-04-26", 0.2], ["2014-05-02", 0],
  ["2014-10-06", 0], ["2014-10-18", 0.08], ["2014-10-31", 0.116], ["2014-11-17", 0.056], ["2014-12-03", 0.146], ["2014-12-20", 0.104],
  ["2014-12-28", 0.056], ["2015-01-06", 0.175], ["2015-01-22", 0.146], ["2015-02-08", 0.206], ["2015-02-24", 0.158], ["2015-03-13", 0.206],
  ["2015-03-29", 0.152], ["2015-04-15", 0.241], ["2015-04-22", 0.11], ["2015-04-28", 0],
  ["2015-09-25", 0], ["2015-09-28", 0.015], ["2015-10-01", 0], ["2015-10-25", 0], ["2015-10-30", 0.06], ["2015-11-08", 0.15],
  ["2015-11-15", 0.2], ["2015-11-22", 0.155], ["2015-11-26", 0.25], ["2015-12-10", 0.27], ["2015-12-19", 0.25], ["2016-01-03", 0.275],
  ["2016-01-12", 0.227], ["2016-01-26", 0.24], ["2016-02-18", 0.2], ["2016-02-20", 0.275], ["2016-03-07", 0.26], ["2016-03-16", 0.419],
  ["2016-03-25", 0.346], ["2016-03-30", 0.25], ["2016-04-06", 0.107], ["2016-04-17", 0], ["2016-05-31", 0],
];

const sn17swe1070: Pt[] = [
  ["2010-06-01", 0], ["2010-10-23", 0], ["2010-10-31", 0.056], ["2010-11-17", 0.092], ["2010-12-04", 0.134], ["2010-12-28", 0.152],
  ["2011-01-05", 0.164], ["2011-02-08", 0.206], ["2011-03-05", 0.217], ["2011-03-30", 0.229], ["2011-04-07", 0.25], ["2011-04-15", 0.268],
  ["2011-04-23", 0.265], ["2011-05-02", 0.206], ["2011-05-10", 0.086], ["2011-05-15", 0],
  ["2011-10-20", 0], ["2011-10-25", 0.014], ["2011-10-31", 0.044], ["2011-11-06", 0.11], ["2011-11-18", 0.152], ["2011-12-01", 0.224],
  ["2011-12-12", 0.271], ["2011-12-25", 0.33], ["2012-01-12", 0.37], ["2012-01-30", 0.4], ["2012-02-14", 0.44], ["2012-02-24", 0.48],
  ["2012-03-13", 0.51], ["2012-04-10", 0.525], ["2012-04-25", 0.46], ["2012-05-07", 0.36], ["2012-05-17", 0.14], ["2012-05-25", 0],
  ["2012-10-25", 0], ["2012-10-31", 0.02], ["2012-11-15", 0.03], ["2012-12-03", 0.056], ["2013-01-05", 0.098], ["2013-02-07", 0.175],
  ["2013-03-12", 0.217], ["2013-04-06", 0.265], ["2013-04-20", 0.3], ["2013-05-01", 0.32], ["2013-05-10", 0.3], ["2013-05-20", 0.25],
  ["2013-05-26", 0.08], ["2013-06-01", 0],
  ["2013-11-08", 0], ["2013-11-17", 0.035], ["2013-12-20", 0.083], ["2014-01-12", 0.107], ["2014-01-22", 0.15], ["2014-02-08", 0.12],
  ["2014-02-24", 0.131], ["2014-03-13", 0.164], ["2014-03-29", 0.175], ["2014-04-15", 0.185], ["2014-04-23", 0.15], ["2014-04-28", 0.05],
  ["2014-05-02", 0],
  ["2014-10-10", 0], ["2014-10-31", 0.01], ["2014-12-03", 0.032], ["2015-01-06", 0.044], ["2015-01-22", 0.038], ["2015-02-08", 0.044],
  ["2015-02-24", 0.056], ["2015-03-13", 0.06], ["2015-03-29", 0.068], ["2015-04-12", 0.098], ["2015-04-18", 0.08], ["2015-04-28", 0],
  ["2015-10-28", 0], ["2015-11-08", 0.02], ["2015-11-26", 0.059], ["2015-12-19", 0.083], ["2016-01-12", 0.09], ["2016-02-18", 0.107],
  ["2016-03-16", 0.131], ["2016-03-28", 0.107], ["2016-04-06", 0.059], ["2016-04-17", 0], ["2016-05-31", 0],
];

const sn17o1070: Pt[] = [
  ["2010-06-01", 0], ["2010-10-23", 0], ["2010-10-31", 0.086], ["2010-11-05", 0.38], ["2010-11-12", 0.3], ["2010-11-18", 0.4],
  ["2010-11-24", 0.32], ["2010-12-01", 0.45], ["2010-12-13", 0.47], ["2010-12-23", 0.5], ["2011-01-03", 0.48], ["2011-01-18", 0.5],
  ["2011-01-30", 0.53], ["2011-02-11", 0.55], ["2011-02-26", 0.58], ["2011-03-13", 0.58], ["2011-03-26", 0.56], ["2011-04-01", 0.55],
  ["2011-04-08", 0.65], ["2011-04-15", 0.58], ["2011-04-25", 0.45], ["2011-05-01", 0.3], ["2011-05-07", 0.15], ["2011-05-13", 0],
  ["2011-10-25", 0], ["2011-10-31", 0.1], ["2011-11-06", 0.42], ["2011-11-12", 0.55], ["2011-11-18", 0.47], ["2011-11-24", 0.55],
  ["2011-11-30", 0.52], ["2011-12-06", 0.52], ["2011-12-10", 0.78], ["2011-12-15", 0.96], ["2011-12-20", 1.05], ["2011-12-25", 1.2],
  ["2011-12-31", 1.18], ["2012-01-06", 1.36], ["2012-01-12", 1.3], ["2012-01-18", 1.28], ["2012-01-30", 1.22], ["2012-02-04", 1.55],
  ["2012-02-14", 1.48], ["2012-02-24", 1.58], ["2012-03-05", 1.66], ["2012-03-13", 1.64], ["2012-03-19", 1.55], ["2012-03-31", 1.43],
  ["2012-04-07", 1.5], ["2012-04-13", 1.35], ["2012-04-19", 1.2], ["2012-04-25", 0.95], ["2012-05-01", 0.78], ["2012-05-07", 0.6],
  ["2012-05-13", 0.42], ["2012-05-19", 0.12], ["2012-05-25", 0],
  ["2012-10-25", 0], ["2012-10-31", 0.135], ["2012-11-10", 0.1], ["2012-12-03", 0.15], ["2012-12-10", 0.28], ["2012-12-18", 0.25],
  ["2013-01-06", 0.25], ["2013-01-18", 0.4], ["2013-01-30", 0.48], ["2013-02-11", 0.72], ["2013-02-23", 0.8], ["2013-03-07", 0.7],
  ["2013-03-15", 0.66], ["2013-03-26", 1.1], ["2013-03-29", 0.9], ["2013-04-08", 1.1], ["2013-04-13", 1.22], ["2013-04-18", 1.0],
  ["2013-04-25", 0.85], ["2013-05-07", 0.66], ["2013-05-13", 0.52], ["2013-05-22", 0.4], ["2013-05-27", 0.08], ["2013-06-01", 0],
  ["2013-11-08", 0], ["2013-11-17", 0.134], ["2013-11-21", 0.2], ["2013-11-24", 0.12], ["2013-11-28", 0.247], ["2013-12-03", 0.13],
  ["2013-12-13", 0.5], ["2013-12-20", 0.45], ["2014-01-06", 0.45], ["2014-01-16", 0.52], ["2014-01-22", 0.187], ["2014-02-01", 0.3],
  ["2014-02-08", 0.187], ["2014-02-18", 0.5], ["2014-03-02", 0.45], ["2014-03-14", 0.75], ["2014-03-20", 0.6], ["2014-04-01", 0.56],
  ["2014-04-07", 0.6], ["2014-04-20", 0.45], ["2014-04-26", 0.3], ["2014-05-02", 0],
  ["2014-10-11", 0], ["2014-10-14", 0.044], ["2014-10-18", 0.098], ["2014-10-25", 0.14], ["2014-10-28", 0.04], ["2014-11-17", 0.05],
  ["2014-12-03", 0.14], ["2014-12-12", 0.08], ["2014-12-20", 0.175], ["2015-01-06", 0.09], ["2015-01-22", 0.3], ["2015-02-08", 0.265],
  ["2015-02-24", 0.247], ["2015-03-13", 0.259], ["2015-03-29", 0.235], ["2015-04-06", 0.175], ["2015-04-15", 0.283], ["2015-04-22", 0.235],
  ["2015-04-28", 0],
  ["2015-09-25", 0], ["2015-09-28", 0.203], ["2015-10-01", 0], ["2015-10-25", 0], ["2015-10-30", 0.131], ["2015-11-04", 0.2],
  ["2015-11-08", 0.251], ["2015-11-15", 0.3], ["2015-11-19", 0.24], ["2015-11-22", 0.347], ["2015-11-26", 0.25], ["2015-12-03", 0.32],
  ["2015-12-10", 0.347], ["2015-12-15", 0.3], ["2015-12-25", 0.323], ["2016-01-03", 0.3], ["2016-01-12", 0.335], ["2016-01-26", 0.287],
  ["2016-02-18", 0.3], ["2016-02-20", 0.383], ["2016-03-07", 0.37], ["2016-03-16", 0.551], ["2016-03-20", 0.491], ["2016-03-25", 0.503],
  ["2016-03-29", 0.443], ["2016-04-03", 0.3], ["2016-04-12", 0.107], ["2016-04-17", 0], ["2016-05-31", 0],
];

// ---------------- Axis ticks / labels ----------------
const leftYTicks = [0, 0.2, 0.4, 0.6, 0.8, 1.0, 1.2];
const rightYTicks = [0, 0.5, 1.0, 1.5];
const leftXTicks = ["2010-01-01", "2011-01-01", "2012-01-01"];
const rightXTicks = ["2011-01-01", "2013-01-01", "2015-01-01"];
const siteTitles = ["Site: 1035", "Site: 1070"];
const yAxisLabel = "Height (m)";
const xAxisLabel = "Date";

// ---------------- Styling ----------------
const F_SANS = "'DejaVu Sans', Verdana, sans-serif";
const F_SERIF = "'Liberation Serif', 'Times New Roman', serif";
const C = {
  z: "#000000",
  swe: "#808080",
  mLight: "#1e90ff",
  mDark: "#0000cd",
  m: "#e31a1c",
  snZ: "#33a02c",
  snSwe: "#b2df8a",
  snO: "#6a3d9a",
};
const DASH = "16 9";

const parseDate = d3.utcParse("%Y-%m-%d");
const pd = (s: string) => parseDate(s) as Date;

type Series = { data: Pt[]; color: string; dash?: string };

type PanelProps = {
  x0: number; x1: number; y0: number; y1: number;
  yDomain: [number, number];
  range: string[];
  yTicks: number[];
  xTicks: string[];
  xLabels: boolean;
  series: Series[];
  title?: string;
  yLabel?: boolean;
  span?: string[];
  vline?: string;
};

function Panel(p: PanelProps) {
  const a = pd(p.range[0]).getTime();
  const b = pd(p.range[1]).getTime();
  const pad = (b - a) * 0.03;
  const x = d3.scaleUtc().domain([new Date(a - pad), new Date(b + pad)]).range([p.x0, p.x1]);
  const y = d3.scaleLinear().domain(p.yDomain).range([p.y1, p.y0]);
  const line = d3
    .line<Pt>()
    .defined((d) => d[1] !== null)
    .x((d) => x(pd(d[0])))
    .y((d) => y(d[1] as number));
  const fmt = d3.format(".1f");
  const gridStroke = "rgba(0,0,0,0.1)";
  return (
    <g>
      {p.yTicks.map((t) => (
        <line key={"gy" + t} x1={p.x0} x2={p.x1} y1={y(t)} y2={y(t)} stroke={gridStroke} strokeWidth={2.4} />
      ))}
      {p.xTicks.map((t) => (
        <line key={"gx" + t} x1={x(pd(t))} x2={x(pd(t))} y1={p.y0} y2={p.y1} stroke={gridStroke} strokeWidth={2.4} />
      ))}
      {p.span && (
        <rect
          x={x(pd(p.span[0]))}
          y={p.y0}
          width={x(pd(p.span[1])) - x(pd(p.span[0]))}
          height={p.y1 - p.y0}
          fill="rgba(0,0,0,0.105)"
        />
      )}
      {p.vline && (
        <line x1={x(pd(p.vline))} x2={x(pd(p.vline))} y1={p.y0} y2={p.y1} stroke="rgba(0,0,0,0.12)" strokeWidth={4.7} />
      )}
      {p.series.map((s, i) => (
        <path
          key={i}
          d={line(s.data) || ""}
          fill="none"
          stroke={s.color}
          strokeWidth={4}
          strokeDasharray={s.dash}
          strokeLinejoin="round"
        />
      ))}
      <line x1={p.x0} x2={p.x0} y1={p.y0} y2={p.y1} stroke="#000" strokeWidth={4} />
      <line x1={p.x0 - 2} x2={p.x1} y1={p.y1} y2={p.y1} stroke="#000" strokeWidth={4} />
      {p.yTicks.map((t) => (
        <g key={"ty" + t}>
          <line x1={p.x0} x2={p.x0 + 16} y1={y(t)} y2={y(t)} stroke="#000" strokeWidth={3} />
          <text x={p.x0 - 27} y={y(t)} dy="0.36em" textAnchor="end" fontFamily={F_SANS} fontSize={46}>
            {fmt(t)}
          </text>
        </g>
      ))}
      {p.xTicks.map((t) => (
        <g key={"tx" + t}>
          <line x1={x(pd(t))} x2={x(pd(t))} y1={p.y1} y2={p.y1 - 16} stroke="#000" strokeWidth={3} />
          {p.xLabels && (
            <text x={x(pd(t))} y={p.y1 + 42} dy="0.36em" textAnchor="middle" fontFamily={F_SANS} fontSize={46}>
              {t}
            </text>
          )}
        </g>
      ))}
      {p.xLabels && (
        <text x={(p.x0 + p.x1) / 2} y={p.y1 + 137} textAnchor="middle" fontFamily={F_SANS} fontSize={64}>
          {xAxisLabel}
        </text>
      )}
      {p.yLabel && (
        <text
          transform={`translate(151,${(p.y0 + p.y1) / 2}) rotate(-90)`}
          dy="0.36em"
          textAnchor="middle"
          fontFamily={F_SANS}
          fontSize={64}
        >
          {yAxisLabel}
        </text>
      )}
      {p.title && (
        <text x={(p.x0 + p.x1) / 2} y={p.y0 - 60} textAnchor="middle" fontFamily={F_SANS} fontSize={82}>
          {p.title}
        </text>
      )}
    </g>
  );
}

type Entry = { color: string; dash?: string; render: (tx: number, ly: number) => React.ReactNode };

function Legend({ box, lx0, lx1, tx, rows, entries }: { box: number[]; lx0: number; lx1: number; tx: number; rows: number[]; entries: Entry[] }) {
  return (
    <g>
      <rect x={box[0]} y={box[1]} width={box[2] - box[0]} height={box[3] - box[1]} fill="#fff" stroke="#000" strokeWidth={4} />
      {entries.map((e, i) => (
        <g key={i}>
          <line x1={lx0} x2={lx1} y1={rows[i]} y2={rows[i]} stroke={e.color} strokeWidth={4} strokeDasharray={e.dash} />
          {e.render(tx, rows[i])}
        </g>
      ))}
    </g>
  );
}

const zLabel = (tx: number, ly: number) => (
  <text x={tx} y={ly + 16} fontFamily={F_SERIF} fontSize={50}>
    <tspan fontStyle="italic">z</tspan>
    <tspan dx={12}>Data</tspan>
  </text>
);
const sweLabel = (tx: number, ly: number) => (
  <text x={tx} y={ly + 16} fontFamily={F_SERIF} fontSize={50}>
    <tspan letterSpacing={4}>SWE</tspan>
    <tspan dx={8}>Data</tspan>
  </text>
);
// tilde accent drawn as a small wave above the italic M
const tildePath = (cx: number, cy: number) =>
  `M ${cx - 9} ${cy + 2} Q ${cx - 4.5} ${cy - 5} ${cx} ${cy} T ${cx + 9} ${cy - 2}`;
const mTildeLabel = (tx: number, ly: number) => (
  <g>
    <text x={tx} y={ly + 13} fontFamily={F_SERIF} fontSize={48}>
      <tspan fontStyle="italic">M</tspan>
      <tspan dx={7} dy={12} fontSize={33} letterSpacing={3}>SWE</tspan>
    </text>
    <path d={tildePath(tx + 29, ly - 24)} fill="none" stroke="#000" strokeWidth={2.6} />
  </g>
);
const mLabel = (tx: number, ly: number) => (
  <text x={tx} y={ly + 16} fontFamily={F_SERIF} fontSize={50} fontStyle="italic">M</text>
);
const snLabel = (sub: string, italic: boolean, base: number) => (tx: number, ly: number) => (
  <text x={tx} y={ly + base} fontFamily={F_SERIF} fontSize={47} letterSpacing={1}>
    SN17
    <tspan dx={2} dy={10} fontSize={31} fontStyle={italic ? "italic" : "normal"} letterSpacing={3}>{sub}</tspan>
  </text>
);
const snOLabel = (tx: number, ly: number) => (
  <text x={tx} y={ly + 16} fontFamily={F_SERIF} fontSize={50} letterSpacing={1}>SN17o</text>
);

export default function App() {
  const topSeries1035: Series[] = [
    { data: zData1035, color: C.z },
    { data: swe1035, color: C.swe, dash: DASH },
    { data: mTildeLight1035, color: C.mLight },
    { data: mTildeDark1035, color: C.mDark },
    { data: m1035, color: C.m },
  ];
  const botSeries1035: Series[] = [
    { data: zData1035, color: C.z },
    { data: swe1035, color: C.swe, dash: DASH },
    { data: sn17z1035, color: C.snZ },
    { data: sn17swe1035, color: C.snSwe },
    { data: sn17o1035, color: C.snO },
  ];
  const topSeries1070: Series[] = [
    { data: zData1070, color: C.z },
    { data: swe1070, color: C.swe, dash: DASH },
    { data: mTildeLight1070, color: C.mLight },
    { data: mTildeDark1070, color: C.mDark },
    { data: m1070, color: C.m },
  ];
  const botSeries1070: Series[] = [
    { data: zData1070, color: C.z },
    { data: swe1070, color: C.swe, dash: DASH },
    { data: sn17z1070, color: C.snZ },
    { data: sn17swe1070, color: C.snSwe },
    { data: sn17o1070, color: C.snO },
  ];

  return (
    <div style={{ position: "absolute", left: 0, top: 0, width: 4040, height: 2317, background: "#fff" }}>
      <svg width={4040} height={2317} viewBox="0 0 4040 2317" style={{ display: "block" }}>
        <rect width={4040} height={2317} fill="#fff" />
        <Panel
          x0={314} x1={2003} y0={157} y1={1150} yDomain={[-0.038, 1.311]}
          range={site1035Range} yTicks={leftYTicks} xTicks={leftXTicks} xLabels={false}
          series={topSeries1035} title={siteTitles[0]} yLabel span={site1035Gap}
        />
        <Panel
          x0={314} x1={2007.5} y0={1162} y1={2146} yDomain={[-0.0384, 1.2925]}
          range={site1035Range} yTicks={leftYTicks} xTicks={leftXTicks} xLabels
          series={botSeries1035} yLabel span={site1035Gap}
        />
        <Panel
          x0={2161} x1={3865} y0={150.5} y1={1151.5} yDomain={[-0.05, 1.728]}
          range={site1070Range} yTicks={rightYTicks} xTicks={rightXTicks} xLabels={false}
          series={topSeries1070} title={siteTitles[1]} vline={site1070Marker}
        />
        <Panel
          x0={2160} x1={3849} y0={1161} y1={2142} yDomain={[-0.049, 1.71]}
          range={site1070Range} yTicks={rightYTicks} xTicks={rightXTicks} xLabels
          series={botSeries1070} vline={site1070Marker}
        />
        <Legend
          box={[3410, 185, 3807, 537]} lx0={3428} lx1={3544} tx={3562}
          rows={[243, 302, 361, 419, 477]}
          entries={[
            { color: C.z, render: zLabel },
            { color: C.swe, dash: DASH, render: sweLabel },
            { color: C.mLight, render: mTildeLabel },
            { color: C.mDark, render: mTildeLabel },
            { color: C.m, render: mLabel },
          ]}
        />
        <Legend
          box={[3398, 1184, 3793, 1492]} lx0={3416} lx1={3531} tx={3548}
          rows={[1236, 1287, 1338, 1389, 1441]}
          entries={[
            { color: C.z, render: zLabel },
            { color: C.swe, dash: DASH, render: sweLabel },
            { color: C.snZ, render: snLabel("Z", true, 8) },
            { color: C.snSwe, render: snLabel("SWE", false, 13) },
            { color: C.snO, render: snOLabel },
          ]}
        />
      </svg>
    </div>
  );
}
